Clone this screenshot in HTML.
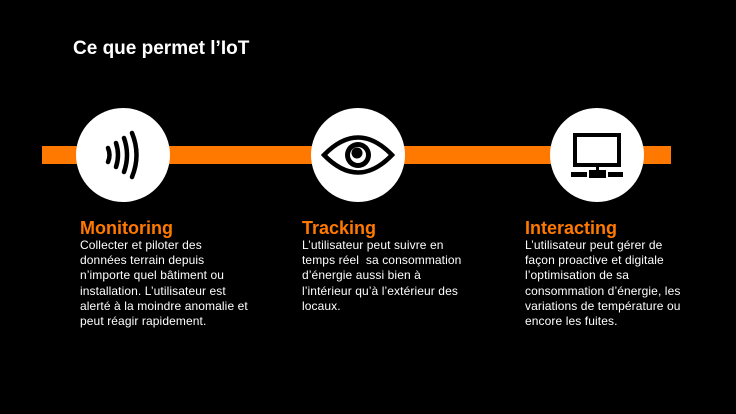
<!DOCTYPE html>
<html><head><meta charset="utf-8"><style>
body{margin:0;width:736px;height:414px;background:#000;position:relative;overflow:hidden;font-family:"Liberation Sans",Arial,sans-serif;color:#fff}
.t{position:absolute;left:73px;top:38px;font-size:19px;font-weight:bold}
.bar{position:absolute;left:42px;top:146px;width:629px;height:18px;background:#ff7900}
.c{position:absolute;width:94px;height:94px;border-radius:50%;background:#fff;top:108px}
.h{position:absolute;font-size:18px;font-weight:bold;color:#ff7900;top:218px}
.p{position:absolute;font-size:12px;line-height:15.2px;top:238px;width:220px;letter-spacing:0.1px}
svg{position:absolute;left:0;top:0}
</style></head><body>
<div class="t">Ce que permet l’IoT</div>
<div class="bar"></div>
<div class="c" style="left:76px"></div>
<div class="c" style="left:311px"></div>
<div class="c" style="left:550px"></div>
<svg width="736" height="414">
<g fill="none" stroke="#000" stroke-width="4.5" stroke-linecap="round">
<path d="M108 148 Q111 155 108 162"/>
<path d="M116 143 Q120 155 116 167"/>
<path d="M124 138 Q130 155 124 172"/>
<path d="M132 133 Q141 155 132 177"/>
</g>
<path d="M324 155 Q358 120 392 155 Q358 190 324 155Z" fill="none" stroke="#000" stroke-width="4.5"/>
<circle cx="358" cy="155" r="13" fill="#000"/>
<circle cx="358" cy="155" r="8" fill="#fff"/>
<circle cx="357" cy="153" r="5.5" fill="#000"/>
<rect x="575" y="135" width="44" height="30" fill="none" stroke="#000" stroke-width="4"/>
<rect x="596" y="165" width="3" height="7" fill="#000"/>
<rect x="571" y="172" width="16" height="5" fill="#000"/>
<rect x="589" y="170" width="17" height="8" fill="#000"/>
<rect x="608" y="172" width="15" height="5" fill="#000"/>
</svg>
<div class="h" style="left:80px">Monitoring</div>
<div class="p" style="left:80px">Collecter et piloter des<br>données terrain depuis<br>n’importe quel bâtiment ou<br>installation. L’utilisateur est<br>alerté à la moindre anomalie et<br>peut réagir rapidement.</div>
<div class="h" style="left:302px">Tracking</div>
<div class="p" style="left:302px">L’utilisateur peut suivre en<br>temps réel &nbsp;sa consommation<br>d’énergie aussi bien à<br>l’intérieur qu’à l’extérieur des<br>locaux.</div>
<div class="h" style="left:525px">Interacting</div>
<div class="p" style="left:525px">L’utilisateur peut gérer de<br>façon proactive et digitale<br>l’optimisation de sa<br>consommation d’énergie, les<br>variations de température ou<br>encore les fuites.</div>
</body></html>
